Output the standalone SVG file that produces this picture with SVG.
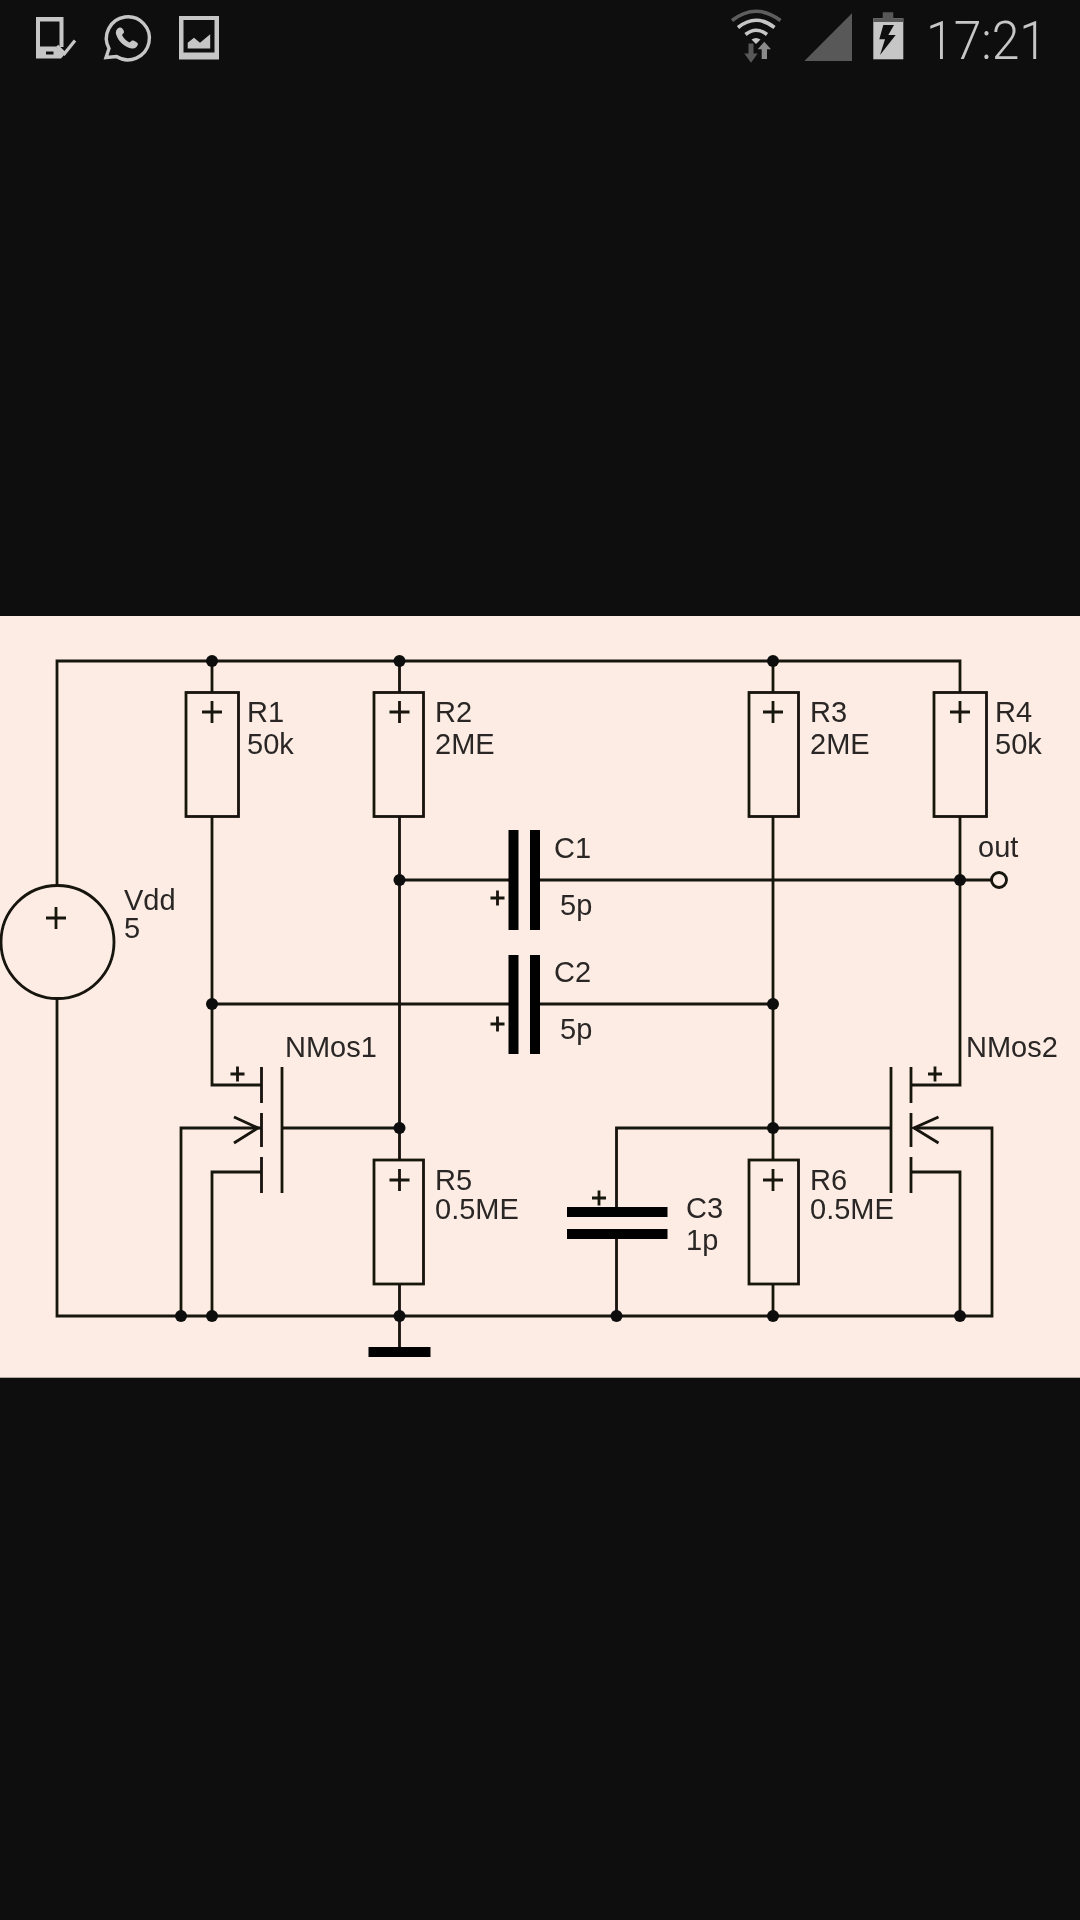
<svg xmlns="http://www.w3.org/2000/svg" xmlns:xlink="http://www.w3.org/1999/xlink" width="1080" height="1920" viewBox="0 0 1080 1920">
<style>
.w{fill:none;stroke:#141210;stroke-width:2.8}
.b{fill:none;stroke:#141210;stroke-width:2.8}
.p{fill:#050505;stroke:none}
.j{fill:#0c0b0a;stroke:none}
.t{font-family:"Liberation Sans",Arial,sans-serif;font-size:29px;fill:#2a2826}
.g{fill:#c6c6c6}
.d{fill:#585858}
.k{fill:#0e0e0e}
</style>
<defs>
<filter id="soft" x="-2%" y="-2%" width="104%" height="104%"><feGaussianBlur stdDeviation="0.7"/></filter>
<g id="plus"><path class="w" d="M-10 0H10M0 -11V11"/></g>
<g id="splus"><path class="w" d="M-7 0H7M0 -7.500V7.500"/></g>
</defs>
<rect width="1080" height="1920" fill="#0e0e0e"/>
<g id="statusbar">
<g id="icon-download"><path class="g" d="M36 17H63.500V47H56L64.500 54.500L61 58.500H36Z"/><path class="k" d="M40 21.500H59.500V46.500H40ZM46 51.500H53.500V54.500H46Z"/><path fill="none" stroke="#c6c6c6" stroke-width="3.200" d="M57 46L64.500 53.500L75 40.500"/></g>
<g id="icon-whatsapp"><path fill="none" stroke="#c6c6c6" stroke-width="3.400" d="M106 57.500L109 48.500A21.500 21.500 0 1 1 116.500 56.500Z"/><path class="g" d="M120 27.500C117 28 115.500 31 116 34C118 41 124 47 131.500 48.500C135 49 137.500 47 138 44C138 42.500 133.500 40 132 40.500L129.500 42.500C126 41 123.500 38 122 35L124 32.500C124.500 31 122 27 120 27.500Z"/></g>
<g id="icon-gallery"><rect class="g" x="179" y="16" width="40" height="43.500"/><rect class="k" x="183.500" y="20" width="31" height="32.500"/><path class="g" d="M187.700 48.500V42.700L194 37.700L200 42.700L210.200 34.300V48.500Z"/></g>
<g id="icon-wifi" fill="none" stroke-width="3.600">
<path stroke="#5e5e5e" d="M732 20.500Q756 2 780.500 20.500"/>
<path stroke="#c6c6c6" d="M738 27.500Q756 13 774.500 27.500"/>
<path stroke="#c6c6c6" d="M745.500 34.500Q756 26 767 34.500"/>
<path class="g" stroke="none" d="M751.500 39.500Q756 36.500 760.500 39.500L756 44Z"/>
<path class="d" stroke="none" d="M748.500 43.500H753.500V53.500H757.700L751 62.700L744.300 53.500H748.500Z"/>
<path fill="#8a8a8a" stroke="none" d="M757.700 49.300L764.300 41.700L771 49.300H767V59H761.700V49.300Z"/>
</g>
<path id="icon-signal" class="d" d="M804.300 61H852V13.300Z"/>
<g id="icon-battery"><rect class="g" x="873.300" y="18.300" width="30" height="41"/><path class="d" d="M873.300 18.300H882.700V12.300H893.300V18.300H903.300V22H873.300Z"/><path class="k" d="M883.300 25H894L888.300 35H895.700L880 55L885 39.300H879.300Z"/></g>
<text id="clock" x="926" y="59.300" font-family="Roboto,'Liberation Sans',sans-serif" font-weight="300" font-size="54" fill="#c6c6c6" textLength="121" lengthAdjust="spacingAndGlyphs">17:21</text>
</g>
<rect id="band" x="0" y="616" width="1080" height="761.700" fill="#fdece4"/>
<g id="circuit" filter="url(#soft)">
<g id="connectors">
<path class="w" d="M57 885V661H960V692"/>
<path class="w" d="M57 999V1316H992V1128H914"/>
<path class="w" d="M212 661V692M212 817V1085H261.500"/>
<path class="w" d="M399.500 661V692M399.500 817V1160M399.500 1284V1352"/>
<path class="w" d="M773 661V692M773 817V1160M773 1284V1316"/>
<path class="w" d="M960 817V1085H911M911 1172H960V1316"/>
<path class="w" d="M399.500 880H509M540 880H991"/>
<path class="w" d="M212 1004H509M540 1004H773"/>
<path class="w" d="M261.500 1128H181V1316M212 1316V1172H261.500M282 1128H399.500"/>
<path class="w" d="M616.500 1207V1128H891M616.500 1239V1316"/>
<g id="junctions">
<circle class="j" cx="212" cy="661" r="6"/><circle class="j" cx="399.500" cy="661" r="6"/><circle class="j" cx="773" cy="661" r="6"/>
<circle class="j" cx="399.500" cy="880" r="6"/><circle class="j" cx="960" cy="880" r="6"/>
<circle class="j" cx="212" cy="1004" r="6"/><circle class="j" cx="773" cy="1004" r="6"/>
<circle class="j" cx="399.500" cy="1128" r="6"/><circle class="j" cx="773" cy="1128" r="6"/>
<circle class="j" cx="181" cy="1316" r="6"/><circle class="j" cx="212" cy="1316" r="6"/><circle class="j" cx="399.500" cy="1316" r="6"/><circle class="j" cx="616.500" cy="1316" r="6"/><circle class="j" cx="773" cy="1316" r="6"/><circle class="j" cx="960" cy="1316" r="6"/>
</g>
</g>
<g id="Vdd"><circle class="b" cx="57.500" cy="942" r="56.500"/><use xlink:href="#plus" x="56" y="918"/><text class="t" x="124" y="910">Vdd</text><text class="t" x="124" y="938">5</text></g>
<g id="R1"><rect class="b" x="186" y="692.500" width="52.500" height="124"/><use xlink:href="#plus" x="212" y="712"/><text class="t" x="247" y="722">R1</text><text class="t" x="247" y="754">50k</text></g>
<g id="R2"><rect class="b" x="374" y="692.500" width="49.500" height="124"/><use xlink:href="#plus" x="399.500" y="712"/><text class="t" x="435" y="722">R2</text><text class="t" x="435" y="754">2ME</text></g>
<g id="R3"><rect class="b" x="749" y="692.500" width="49.500" height="124"/><use xlink:href="#plus" x="773" y="712"/><text class="t" x="810" y="722">R3</text><text class="t" x="810" y="754">2ME</text></g>
<g id="R4"><rect class="b" x="934" y="692.500" width="52.500" height="124"/><use xlink:href="#plus" x="960" y="712"/><text class="t" x="995" y="722">R4</text><text class="t" x="995" y="754">50k</text></g>
<g id="R5"><rect class="b" x="374" y="1160" width="49.500" height="124"/><use xlink:href="#plus" x="399.500" y="1180"/><text class="t" x="435" y="1190">R5</text><text class="t" x="435" y="1219">0.5ME</text></g>
<g id="R6"><rect class="b" x="749" y="1160" width="49.500" height="124"/><use xlink:href="#plus" x="773" y="1180"/><text class="t" x="810" y="1190">R6</text><text class="t" x="810" y="1219">0.5ME</text></g>
<g id="C1"><rect class="p" x="508.500" y="830" width="10" height="100"/><rect class="p" x="530" y="830" width="10" height="100"/><use xlink:href="#splus" x="497.500" y="898"/><text class="t" x="554" y="858">C1</text><text class="t" x="560" y="915">5p</text></g>
<g id="C2"><rect class="p" x="508.500" y="955" width="10" height="99"/><rect class="p" x="530" y="955" width="10" height="99"/><use xlink:href="#splus" x="497.500" y="1024"/><text class="t" x="554" y="982">C2</text><text class="t" x="560" y="1039">5p</text></g>
<g id="C3"><rect class="p" x="567" y="1207" width="100.500" height="10"/><rect class="p" x="567" y="1229" width="100.500" height="10"/><use xlink:href="#splus" x="599" y="1198"/><text class="t" x="686" y="1218">C3</text><text class="t" x="686" y="1250">1p</text></g>
<g id="NMos1"><path class="w" d="M261.500 1067V1103M261.500 1113V1147M261.500 1157V1193M282 1067V1193M234 1117L258 1128L234 1143"/><use xlink:href="#splus" x="237.500" y="1074"/><text class="t" x="285" y="1057">NMos1</text></g>
<g id="NMos2"><path class="w" d="M891 1067V1193M911 1067V1103M911 1113V1147M911 1157V1193M938.500 1117L914 1128L938.500 1143"/><use xlink:href="#splus" x="935" y="1074"/><text class="t" x="966" y="1057">NMos2</text></g>
<g id="out"><circle class="b" cx="999" cy="880" r="7.500"/><text class="t" x="978" y="857">out</text></g>
<g id="ground"><rect class="p" x="368.500" y="1347" width="62" height="10"/></g>
</g>
</svg>
